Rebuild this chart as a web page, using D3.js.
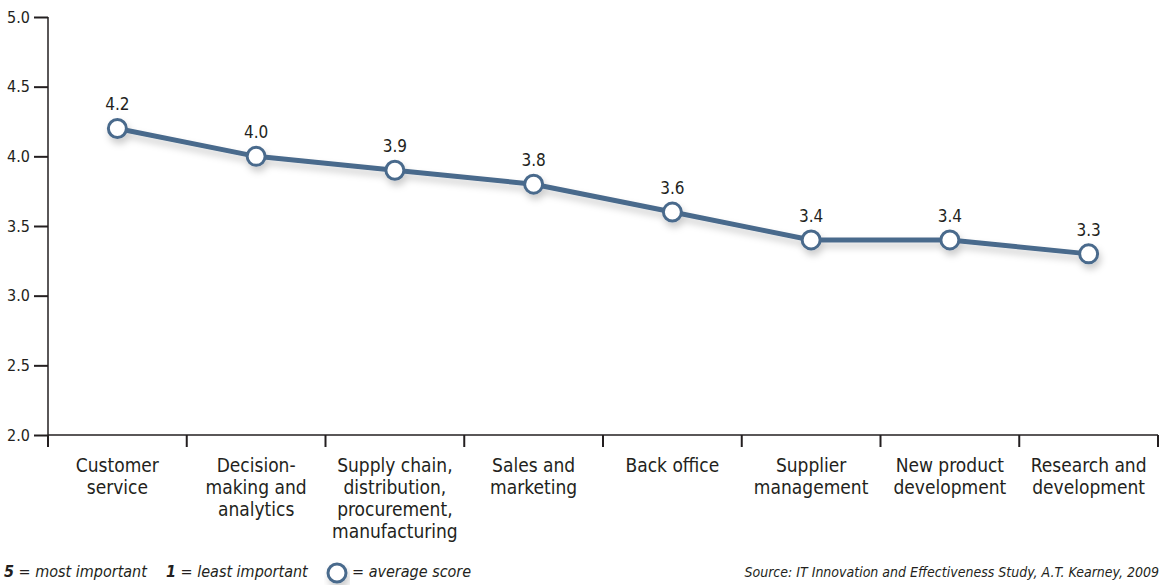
<!DOCTYPE html>
<html>
<head>
<meta charset="utf-8">
<script src="https://cdn.jsdelivr.net/npm/d3@7"></script>
<style>
  html, body { margin: 0; padding: 0; background: #fff; }
  svg { display: block; }
  text { font-family: "DejaVu Sans Condensed", "Liberation Sans Narrow", sans-serif; fill: #231f20; }
</style>
</head>
<body>
<svg id="chart" width="1162" height="585"></svg>
<script>
// Average importance score by business area
const categories = [
  ["Customer", "service"],
  ["Decision-", "making and", "analytics"],
  ["Supply chain,", "distribution,", "procurement,", "manufacturing"],
  ["Sales and", "marketing"],
  ["Back office"],
  ["Supplier", "management"],
  ["New product", "development"],
  ["Research and", "development"]
];
const scores = [4.2, 4.0, 3.9, 3.8, 3.6, 3.4, 3.4, 3.3];
const yTicks = [2.0, 2.5, 3.0, 3.5, 4.0, 4.5, 5.0];
const sourceNote = "Source: IT Innovation and Effectiveness Study, A.T. Kearney, 2009";

(function () {
const lineColor = "#4a6a8c";
const ink = "#231f20";
const svg = d3.select("#chart");
const plotLeft = 48, plotRight = 1158, plotTop = 17, plotBottom = 435;

const x = d3.scaleBand().domain(d3.range(categories.length)).range([plotLeft, plotRight]);
const y = d3.scaleLinear().domain([2, 5]).range([plotBottom, plotTop]);

// soft shadow under the line and markers
const defs = svg.append("defs");
const f = defs.append("filter").attr("id", "shadow").attr("x", "-20%").attr("y", "-20%").attr("width", "140%").attr("height", "160%");
f.append("feDropShadow").attr("dx", 2).attr("dy", 5).attr("stdDeviation", 3.5)
  .attr("flood-color", "#000").attr("flood-opacity", 0.2);

// y axis
const yAxis = svg.append("g").attr("transform", `translate(${plotLeft},0)`)
  .call(d3.axisLeft(y).tickValues(yTicks).tickFormat(d3.format(".1f")).tickSize(14).tickPadding(4));
yAxis.select(".domain").attr("stroke", ink).attr("stroke-width", 1.5).attr("d", `M0,${plotTop}V${plotBottom}`);
yAxis.selectAll(".tick line").attr("stroke", ink).attr("stroke-width", 2);
yAxis.selectAll(".tick text").attr("font-size", 16).attr("fill", ink)
  .style("font-family", '"DejaVu Sans Condensed", "Liberation Sans Narrow", sans-serif');

// x axis: baseline plus tick marks at band edges
const xg = svg.append("g");
xg.append("line").attr("x1", plotLeft).attr("x2", plotRight).attr("y1", plotBottom).attr("y2", plotBottom)
  .attr("stroke", ink).attr("stroke-width", 1.5);
const edges = d3.range(categories.length).map(i => x(i)).concat([x(categories.length - 1) + x.bandwidth()]);
xg.selectAll("line.edge").data(edges).join("line").attr("class", "edge")
  .attr("x1", d => d).attr("x2", d => d).attr("y1", plotBottom).attr("y2", plotBottom + 12)
  .attr("stroke", ink).attr("stroke-width", 2);

// category labels
const lab = svg.append("g").selectAll("text").data(categories).join("text")
  .attr("text-anchor", "middle").attr("font-size", 19)
  .attr("x", (d, i) => x(i) + x.bandwidth() / 2).attr("y", 472);
lab.each(function (d, i) {
  const t = d3.select(this);
  d.forEach((s, j) => t.append("tspan").attr("x", x(i) + x.bandwidth() / 2).attr("dy", j === 0 ? 0 : 22).text(s));
});

// line and markers
const cx = i => x(i) + x.bandwidth() / 2;
const line = d3.line().x((d, i) => cx(i)).y(d => y(d));
const plot = svg.append("g").attr("filter", "url(#shadow)");
plot.append("path").datum(scores).attr("d", line).attr("fill", "none")
  .attr("stroke", lineColor).attr("stroke-width", 5).attr("stroke-linejoin", "round");
plot.selectAll("circle").data(scores).join("circle")
  .attr("cx", (d, i) => cx(i)).attr("cy", d => y(d)).attr("r", 9)
  .attr("fill", "#fff").attr("stroke", lineColor).attr("stroke-width", 3);

// value labels
svg.append("g").selectAll("text").data(scores).join("text")
  .attr("x", (d, i) => cx(i)).attr("y", d => y(d) - 18)
  .attr("text-anchor", "middle").attr("font-size", 17)
  .text(d => d3.format(".1f")(d));

// footer legend
const foot = svg.append("g").attr("font-size", 16).attr("font-style", "italic");
const t1 = foot.append("text").attr("x", 4).attr("y", 577);
t1.append("tspan").attr("font-weight", "bold").text("5");
t1.append("tspan").text(" = most important");
const t2 = foot.append("text").attr("x", 166).attr("y", 577);
t2.append("tspan").attr("font-weight", "bold").text("1");
t2.append("tspan").text(" = least important");
svg.append("circle").attr("cx", 337).attr("cy", 573).attr("r", 9)
  .attr("fill", "#fff").attr("stroke", lineColor).attr("stroke-width", 3).attr("filter", "url(#shadow)");
foot.append("text").attr("x", 352).attr("y", 577).text("= average score");
svg.append("text").attr("x", 1159).attr("y", 577).attr("text-anchor", "end")
  .attr("font-size", 14).attr("font-style", "italic").text(sourceNote);
})();
</script>
</body>
</html>
